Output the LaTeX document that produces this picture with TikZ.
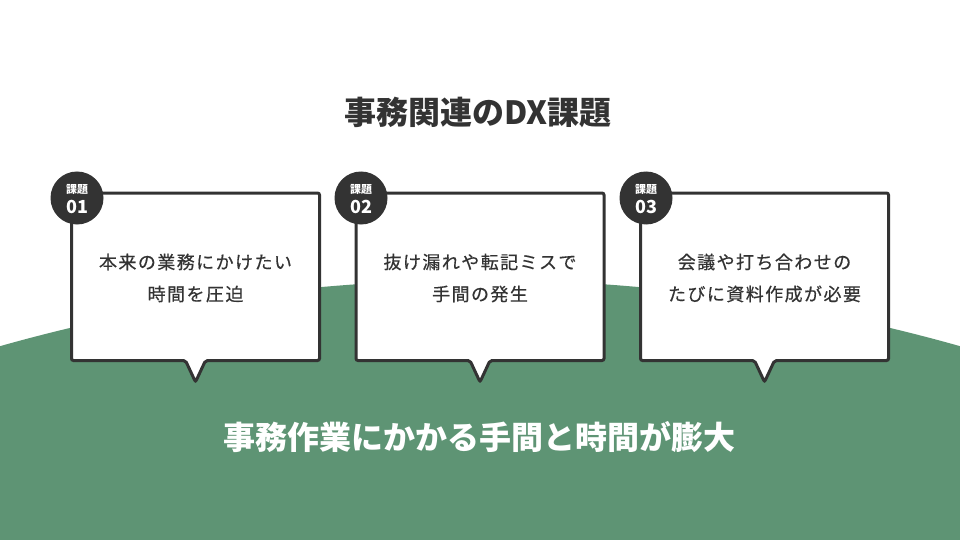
\documentclass[tikz,border=0pt]{standalone}
\usepackage{fontspec}
\setmainfont{Noto Sans CJK JP}
\newfontfamily\bodyfont{Noto Sans CJK JP}[FakeBold=0.5, LetterSpace=8]
\definecolor{dark}{HTML}{333333}
\definecolor{leaf}{HTML}{5E9474}
\begin{document}
\begin{tikzpicture}[x=1pt,y=-1pt,
  boxline/.style={draw=dark, line width=3pt, fill=white, rounded corners=2pt, line join=miter},
  badge/.style={circle, fill=dark, minimum size=53pt, inner sep=0pt},
  badgesmall/.style={text=white, font=\fontsize{11}{11}\selectfont\bfseries, inner sep=0pt},
  badgenum/.style={text=white, font=\fontsize{18}{18}\selectfont\bfseries, inner sep=0pt},
  bodytext/.style={text=dark, font=\bodyfont\fontsize{18}{32}\selectfont, align=center},
  headline/.style={font=\fontsize{32}{32}\selectfont\bfseries, inner sep=0pt}
]
\useasboundingbox (0,0) rectangle (960,540);
\fill[white] (0,0) rectangle (960,540);
\begin{scope}
  \clip (0,0) rectangle (960,540);
  \fill[leaf] (480,2042) circle (1762pt);
\end{scope}

\node[headline, text=dark] (title) at (478,112) {事務関連のDX課題};

\foreach \cx/\bx/\num in {195.5/77/01, 480/361/02, 764.5/646/03}{
  \draw[boxline] (\cx-124,193) -- (\cx+124,193) -- (\cx+124,360.5) -- (\cx+10,360.5)
    -- (\cx,382) -- (\cx-10,360.5) -- (\cx-124,360.5) -- cycle;
  \node[badge] (badge\num) at (\bx,198) {};
  \node[badgesmall] (badgelabel\num) at (\bx,190) {課題};
  \node[badgenum] (badgenum\num) at (\bx,207) {\num};
}

\node[bodytext] (text01) at (195.5,278) {本来の業務にかけたい\\時間を圧迫};
\node[bodytext] (text02) at (480,278) {抜け漏れや転記ミスで\\手間の発生};
\node[bodytext] (text03) at (764.5,278) {会議や打ち合わせの\\たびに資料作成が必要};

\node[headline, text=white] (summary) at (479,437) {事務作業にかかる手間と時間が膨大};
\end{tikzpicture}
\end{document}
